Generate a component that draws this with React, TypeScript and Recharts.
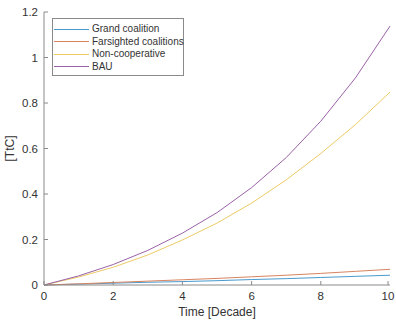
import React from 'react';
import { LineChart, Line, XAxis, YAxis } from 'recharts';

const decades = [0, 1, 2, 3, 4, 5, 6, 7, 8, 9, 10];
const grandCoalition = [0, 0.004, 0.008, 0.012, 0.015, 0.019, 0.024, 0.028, 0.033, 0.038, 0.043];
const farsightedCoalitions = [0, 0.005, 0.011, 0.017, 0.023, 0.029, 0.036, 0.043, 0.051, 0.06, 0.069];
const nonCooperative = [0, 0.035, 0.078, 0.132, 0.198, 0.272, 0.36, 0.462, 0.578, 0.705, 0.848];
const bau = [0, 0.04, 0.09, 0.152, 0.228, 0.318, 0.428, 0.56, 0.72, 0.91, 1.138];

const xTicks = [0, 2, 4, 6, 8, 10];
const yTicks = [0, 0.2, 0.4, 0.6, 0.8, 1, 1.2];

const seriesKeys = ['grand', 'far', 'non', 'bau'];
const seriesNames = ['Grand coalition', 'Farsighted coalitions', 'Non-cooperative', 'BAU'];
const seriesColors = ['#4a9ace', '#d8845f', '#eccb66', '#9a62a6'];

const data = decades.map((d, i) => ({
  t: d,
  grand: grandCoalition[i],
  far: farsightedCoalitions[i],
  non: nonCooperative[i],
  bau: bau[i],
}));

const FONT = '"Liberation Sans", Arial, sans-serif';
const AXIS = '#8a8a8a';
const TEXT = '#333333';

const XTick = (props: any) => {
  const { x, y, payload } = props;
  return (
    <g>
      <line x1={x} y1={y - 6} x2={x} y2={y - 10} stroke={AXIS} strokeWidth={1} />
      <text x={x} y={y} dy={9} textAnchor="middle" fontSize={11.5} fill={TEXT} fontFamily={FONT}>
        {payload.value}
      </text>
    </g>
  );
};

const YTick = (props: any) => {
  const { x, y, payload } = props;
  return (
    <g>
      <line x1={x + 6} y1={y} x2={x + 10} y2={y} stroke={AXIS} strokeWidth={1} />
      <text x={x} y={y} dy={4} textAnchor="end" fontSize={11.5} fill={TEXT} fontFamily={FONT}>
        {String(payload.value)}
      </text>
    </g>
  );
};

export default function App() {
  return (
    <div style={{ position: 'absolute', left: 0, top: 0, width: 396, height: 322, background: '#fff' }}>
      <LineChart width={396} height={322} data={data} margin={{ top: 12, right: 6, bottom: 0, left: 0 }}>
        <XAxis
          dataKey="t"
          type="number"
          domain={[0, 10]}
          ticks={xTicks}
          tickSize={0}
          tickMargin={6}
          tickLine={false}
          tick={<XTick />}
          stroke={AXIS}
          height={37}
          label={{ value: 'Time [Decade]', position: 'insideBottom', offset: 6, fontSize: 12, fill: TEXT, fontFamily: FONT }}
        />
        <YAxis
          type="number"
          domain={[0, 1.2]}
          ticks={yTicks}
          width={44}
          tickSize={0}
          tickMargin={6}
          tickLine={false}
          tick={<YTick />}
          stroke={AXIS}
          label={(lp: any) => {
            const vb = lp.viewBox;
            const cx = vb.x + 14;
            const cy = vb.y + vb.height / 2;
            return (
              <text x={cx} y={cy} transform={`rotate(-90, ${cx}, ${cy})`} textAnchor="middle" fontSize={12} fill={TEXT} fontFamily={FONT}>
                [TtC]
              </text>
            );
          }}
        />
        {seriesKeys.map((k, i) => (
          <Line key={k} dataKey={k} name={seriesNames[i]} stroke={seriesColors[i]} strokeWidth={1} dot={false} isAnimationActive={false} />
        ))}
      </LineChart>
      <div
        style={{
          position: 'absolute',
          left: 52,
          top: 18,
          width: 129,
          boxSizing: 'content-box',
          border: '1px solid #8a8a8a',
          background: '#fff',
          padding: '4px 0 2px 1px',
          fontFamily: FONT,
          fontSize: 10,
          color: TEXT,
          lineHeight: '12.5px',
        }}
      >
        {seriesNames.map((n, i) => (
          <div key={n} style={{ display: 'flex', alignItems: 'center', whiteSpace: 'nowrap' }}>
            <span style={{ display: 'inline-block', width: 35, height: 1, background: seriesColors[i], marginRight: 3, flexShrink: 0 }} />
            <span>{n}</span>
          </div>
        ))}
      </div>
    </div>
  );
}
